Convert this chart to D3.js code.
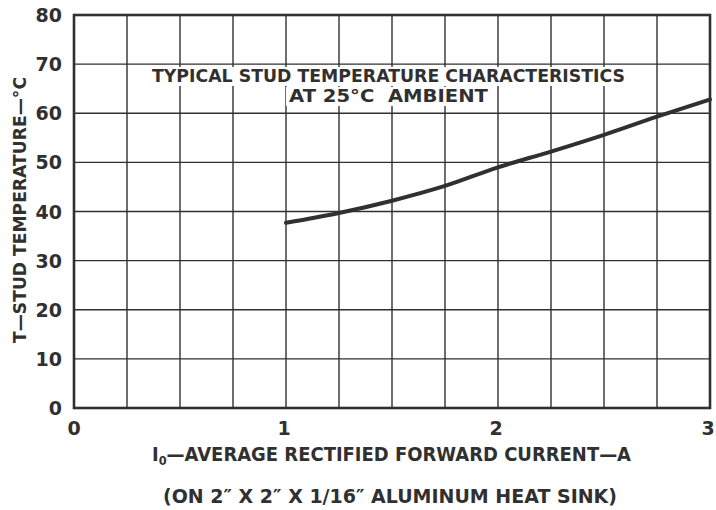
<!DOCTYPE html>
<html><head><meta charset="utf-8">
<script src="https://cdn.jsdelivr.net/npm/d3@7"></script>
<style>body{margin:0;background:#fff}svg{display:block}</style>
</head><body>
<svg id="c" width="716" height="510"></svg>
<script>
const currents = [1, 1.25, 1.5, 1.75, 2, 2.25, 2.5, 2.75, 3];
const temps = [37.7, 39.7, 42.2, 45.2, 49.0, 52.2, 55.6, 59.3, 62.8];
const xTicks = [0, 1, 2, 3];
const yTicks = [0, 10, 20, 30, 40, 50, 60, 70, 80];
const xGrid = d3.range(0, 13).map(i => i * 0.25);
const titleLines = ["TYPICAL STUD TEMPERATURE CHARACTERISTICS", "AT 25°C\u00a0 AMBIENT"];
const yLabel = "T—STUD TEMPERATURE—°C";
const xLabelMain = "—AVERAGE RECTIFIED FORWARD CURRENT—A";
const subtitle = "(ON 2\u2033 X 2\u2033 X 1/16\u2033 ALUMINUM HEAT SINK)";

const ink = "#303030";
const font = "'DejaVu Sans', sans-serif";
const svg = d3.select("#c");
const L = 74, R = 710, T = 15, B = 408;
const x = d3.scaleLinear().domain([0, 3]).range([L, R]);
const y = d3.scaleLinear().domain([0, 80]).range([B, T]);

// grid
svg.append("g").selectAll("line").data(xGrid).join("line")
  .attr("x1", d => x(d)).attr("x2", d => x(d)).attr("y1", T).attr("y2", B)
  .attr("stroke", ink).attr("stroke-width", 1.4);
svg.append("g").selectAll("line").data(yTicks).join("line")
  .attr("x1", L).attr("x2", R).attr("y1", d => y(d)).attr("y2", d => y(d))
  .attr("stroke", ink).attr("stroke-width", 1.4);
svg.append("rect").attr("x", L).attr("y", T).attr("width", R - L).attr("height", B - T)
  .attr("fill", "none").attr("stroke", ink).attr("stroke-width", 2.6);

// title with white backing
const tg = svg.append("g");
const tx = 388.5;
[[82, titleLines[0], 473], [102, titleLines[1], 199]].forEach(([ty, s, w]) => {
  tg.append("rect").attr("x", tx - w / 2 - 3).attr("y", ty - 15).attr("width", w + 6).attr("height", 19).attr("fill", "#fff");
  tg.append("text").attr("x", tx).attr("y", ty).attr("text-anchor", "middle")
    .attr("font-family", font).attr("font-weight", "bold").attr("font-size", 17.5)
    .attr("fill", ink).attr("textLength", w).attr("lengthAdjust", "spacingAndGlyphs").text(s);
});

// curve
const line = d3.line().x((d, i) => x(currents[i])).y(d => y(d)).curve(d3.curveMonotoneX);
svg.append("path").datum(temps).attr("d", line).attr("fill", "none")
  .attr("stroke", ink).attr("stroke-width", 4).attr("stroke-linecap", "round");

// tick labels
svg.append("g").selectAll("text").data(yTicks).join("text")
  .attr("x", 62).attr("y", d => y(d) + 7).attr("text-anchor", "end")
  .attr("font-family", font).attr("font-weight", "bold").attr("font-size", 19).attr("fill", ink)
  .text(d => d);
svg.append("g").selectAll("text").data(xTicks).join("text")
  .attr("x", d => x(d) - (d === 0 ? 0 : 2)).attr("y", 435).attr("text-anchor", "middle")
  .attr("font-family", font).attr("font-weight", "bold").attr("font-size", 19).attr("fill", ink)
  .text(d => d);

// x label
const xl = svg.append("text").attr("x", 391.5).attr("y", 461).attr("text-anchor", "middle")
  .attr("font-family", font).attr("font-weight", "bold").attr("font-size", 19).attr("fill", ink)
  .attr("textLength", 479).attr("lengthAdjust", "spacingAndGlyphs");
xl.append("tspan").text("I");
xl.append("tspan").attr("font-size", 12).attr("dy", 4).text("0");
xl.append("tspan").attr("dy", -4).text(xLabelMain);

svg.append("text").attr("x", 390).attr("y", 503).attr("text-anchor", "middle")
  .attr("font-family", font).attr("font-weight", "bold").attr("font-size", 19).attr("fill", ink)
  .attr("textLength", 454).attr("lengthAdjust", "spacingAndGlyphs").text(subtitle);

svg.append("text").attr("transform", "translate(26,210) rotate(-90)").attr("text-anchor", "middle")
  .attr("font-family", font).attr("font-weight", "bold").attr("font-size", 18).attr("fill", ink)
  .attr("textLength", 266).attr("lengthAdjust", "spacingAndGlyphs").text(yLabel);
</script>
</body></html>
